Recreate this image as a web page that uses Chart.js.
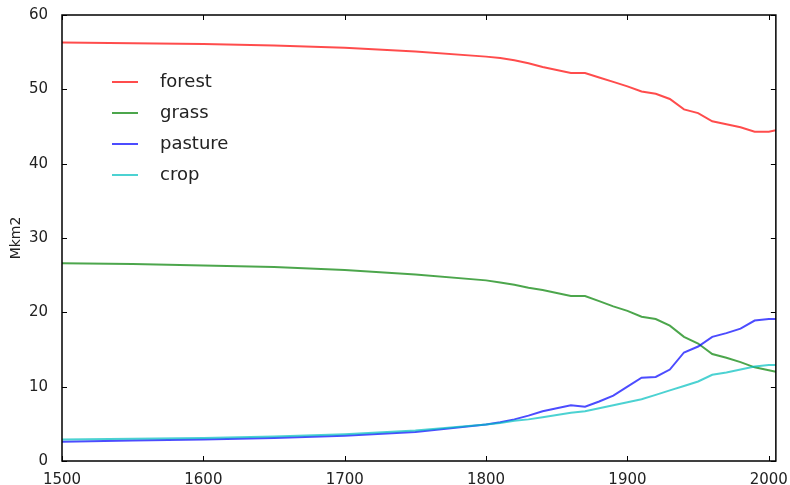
<!DOCTYPE html>
<html>
<head>
<meta charset="utf-8">
<script src="https://cdn.jsdelivr.net/npm/chart.js@4"></script>
<style>
    html, body { margin: 0; padding: 0; background: #fff; }
    #wrap { width: 790px; height: 485px; }
</style>
</head>
<body>
<div id="wrap"><canvas id="chart" width="790" height="485"></canvas></div>
<script>
const years = [1500, 1550, 1600, 1650, 1700, 1750, 1800, 1810, 1820, 1830, 1840, 1850, 1860, 1870,
    1880, 1890, 1900, 1910, 1920, 1930, 1940, 1950, 1960, 1970, 1980, 1990, 2000, 2005];
const forest = [56.3, 56.2, 56.1, 55.9, 55.6, 55.1, 54.4, 54.2, 53.9, 53.5, 53.0, 52.6, 52.2, 52.2,
    51.6, 51.0, 50.4, 49.7, 49.4, 48.7, 47.3, 46.8, 45.7, 45.3, 44.9, 44.3, 44.3, 44.5];
const grass = [26.6, 26.5, 26.3, 26.1, 25.7, 25.1, 24.3, 24.0, 23.7, 23.3, 23.0, 22.6, 22.2, 22.2,
    21.5, 20.8, 20.2, 19.4, 19.1, 18.2, 16.7, 15.8, 14.4, 13.9, 13.3, 12.6, 12.2, 12.0];
const pasture = [2.6, 2.75, 2.9, 3.1, 3.4, 3.9, 4.9, 5.2, 5.6, 6.1, 6.7, 7.1, 7.5, 7.3,
    8.0, 8.8, 10.0, 11.2, 11.3, 12.3, 14.6, 15.4, 16.7, 17.2, 17.8, 18.9, 19.1, 19.1];
const crop = [2.9, 3.0, 3.1, 3.3, 3.6, 4.1, 4.9, 5.1, 5.4, 5.6, 5.9, 6.2, 6.5, 6.7,
    7.1, 7.5, 7.9, 8.3, 8.9, 9.5, 10.1, 10.7, 11.6, 11.9, 12.3, 12.7, 12.9, 12.9];
const seriesNames = ['forest', 'grass', 'pasture', 'crop'];
const seriesColors = ['rgba(255,0,0,0.7)', 'rgba(0,128,0,0.7)', 'rgba(0,0,255,0.7)', 'rgba(0,191,191,0.7)'];
const xTicks = [1500, 1600, 1700, 1800, 1900, 2000];
const yTicks = [0, 10, 20, 30, 40, 50, 60];

const FONT = 'DejaVu Sans';

function toPoints(values) {
    return years.map((yr, i) => ({x: yr, y: values[i]}));
}

// box around the plot with inward ticks on all four sides, like matplotlib classic
const frame = {
    id: 'frame',
    afterDatasetsDraw(chart) {
        const {ctx, chartArea: a, scales: {x, y}} = chart;
        ctx.save();
        ctx.strokeStyle = '#000';
        ctx.lineWidth = 1;
        ctx.beginPath();
        x.ticks.forEach(t => {
            const px = Math.round(x.getPixelForValue(t.value)) + 0.5;
            ctx.moveTo(px, a.bottom); ctx.lineTo(px, a.bottom - 5);
            ctx.moveTo(px, a.top); ctx.lineTo(px, a.top + 5);
        });
        y.ticks.forEach(t => {
            const py = Math.round(y.getPixelForValue(t.value)) + 0.5;
            ctx.moveTo(a.left, py); ctx.lineTo(a.left + 5, py);
            ctx.moveTo(a.right, py); ctx.lineTo(a.right - 5, py);
        });
        ctx.stroke();
        ctx.lineWidth = 1.5;
        ctx.strokeRect(a.left, a.top, a.right - a.left, a.bottom - a.top);
        ctx.restore();
    }
};

// legend sits inside the axes, upper left, no frame
const innerLegend = {
    id: 'innerLegend',
    afterDraw(chart, args, opts) {
        const ctx = chart.ctx;
        ctx.save();
        ctx.font = opts.fontSize + 'px "' + FONT + '"';
        ctx.textBaseline = 'middle';
        ctx.fillStyle = '#222';
        chart.data.datasets.forEach((ds, i) => {
            const yy = opts.top + i * opts.rowGap;
            ctx.strokeStyle = ds.borderColor;
            ctx.lineWidth = 2;
            ctx.beginPath();
            ctx.moveTo(opts.left, yy);
            ctx.lineTo(opts.left + opts.lineLen, yy);
            ctx.stroke();
            ctx.fillText(ds.label, opts.textLeft, yy);
        });
        ctx.restore();
    }
};

const ctx = document.getElementById('chart').getContext('2d');
const chart = new Chart(ctx, {
    type: 'scatter',
    data: {
        datasets: seriesNames.map((name, i) => ({
            label: name,
            data: toPoints([forest, grass, pasture, crop][i]),
            borderColor: seriesColors[i],
            backgroundColor: seriesColors[i],
            borderWidth: 2,
            showLine: true,
            pointRadius: 0,
            tension: 0,
            order: 4 - i
        }))
    },
    options: {
        responsive: false,
        animation: false,
        layout: {padding: {top: 15, right: 12, left: 0, bottom: 0}},
        plugins: {
            legend: {display: false},
            tooltip: {enabled: false},
            innerLegend: {left: 112, lineLen: 26, textLeft: 160, top: 82, rowGap: 31, fontSize: 18}
        },
        scales: {
            x: {
                type: 'linear',
                min: 1500,
                max: 2005,
                grid: {display: false},
                border: {display: false},
                afterFit: s => { s.height = 24; },
                afterBuildTicks: s => { s.ticks = xTicks.map(v => ({value: v})); },
                ticks: {
                    maxRotation: 0,
                    autoSkip: false,
                    padding: 2,
                    color: '#222',
                    font: {family: FONT, size: 15},
                    callback: v => String(v)
                }
            },
            y: {
                min: 0,
                max: 60,
                grid: {display: false},
                border: {display: false},
                afterFit: s => { s.width = 62; },
                afterBuildTicks: s => { s.ticks = yTicks.map(v => ({value: v})); },
                title: {
                    display: true,
                    text: 'Mkm2',
                    color: '#222',
                    font: {family: FONT, size: 14},
                    padding: {top: 8, bottom: 4}
                },
                ticks: {
                    padding: 6,
                    color: '#222',
                    font: {family: FONT, size: 15},
                    callback: v => String(v)
                }
            }
        }
    },
    plugins: [frame, innerLegend]
});
</script>
</body>
</html>
